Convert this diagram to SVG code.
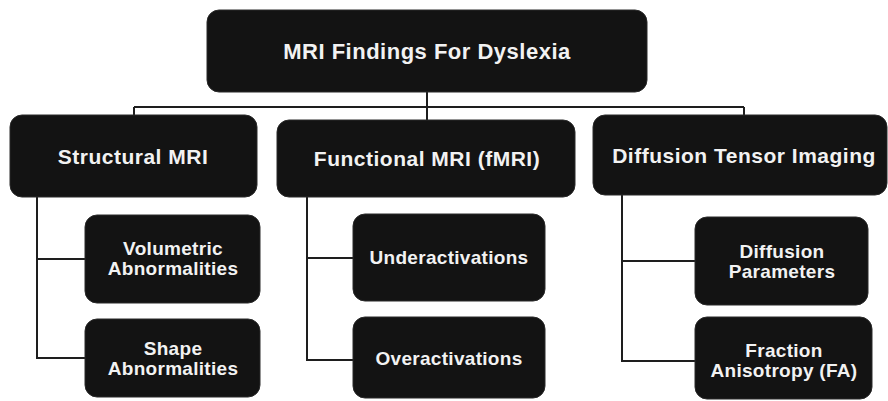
<svg xmlns="http://www.w3.org/2000/svg" width="888" height="401" viewBox="0 0 888 401">
<style>
.box{fill:#131313;stroke:#2a2a2a;stroke-width:1}
.t{fill:#f2f2f2;font-family:"Liberation Sans",Arial,sans-serif;font-weight:bold;text-anchor:middle}
.l0{font-size:22px;letter-spacing:0.5px}
.l1{font-size:21px;letter-spacing:0.5px}
.l2{font-size:19px;letter-spacing:0.3px}
.c{fill:none;stroke:#1e1e1e;stroke-width:2}
</style>
<rect width="888" height="401" fill="#ffffff"/>
<g id="connectors">
<path class="c" d="M427 92V107M134 107H744M134 107V115M427 107V120M744 107V115"/>
<path class="c" d="M37 197V358H85M37 259H85"/>
<path class="c" d="M307 197V360H353M307 258H353"/>
<path class="c" d="M622 195V361H695M622 261H695"/>
</g>
<g id="root">
<rect class="box" x="207" y="10" width="440" height="82" rx="12"/>
<text class="t l0" x="427" y="59">MRI Findings For Dyslexia</text>
</g>
<g id="structural">
<rect class="box" x="10" y="115" width="247" height="82" rx="12"/>
<text class="t l1" x="133" y="164">Structural MRI</text>
</g>
<g id="functional">
<rect class="box" x="277" y="120" width="298" height="77" rx="12"/>
<text class="t l1" x="427" y="166">Functional MRI (fMRI)</text>
</g>
<g id="dti">
<rect class="box" x="593" y="115" width="294" height="80" rx="12"/>
<text class="t l1" x="744" y="163">Diffusion Tensor Imaging</text>
</g>
<g id="volumetric">
<rect class="box" x="85" y="215" width="175" height="88" rx="12"/>
<text class="t l2" x="173" y="255">Volumetric</text>
<text class="t l2" x="173" y="275">Abnormalities</text>
</g>
<g id="shape">
<rect class="box" x="85" y="319" width="175" height="78" rx="12"/>
<text class="t l2" x="173" y="355">Shape</text>
<text class="t l2" x="173" y="375">Abnormalities</text>
</g>
<g id="under">
<rect class="box" x="353" y="214" width="192" height="87" rx="12"/>
<text class="t l2" x="449" y="264">Underactivations</text>
</g>
<g id="over">
<rect class="box" x="353" y="317" width="192" height="81" rx="12"/>
<text class="t l2" x="449" y="365">Overactivations</text>
</g>
<g id="diffparam">
<rect class="box" x="695" y="217" width="173" height="88" rx="12"/>
<text class="t l2" x="782" y="258">Diffusion</text>
<text class="t l2" x="782" y="278">Parameters</text>
</g>
<g id="fa">
<rect class="box" x="695" y="317" width="177" height="82" rx="12"/>
<text class="t l2" x="784" y="357">Fraction</text>
<text class="t l2" x="784" y="377">Anisotropy (FA)</text>
</g>
</svg>
